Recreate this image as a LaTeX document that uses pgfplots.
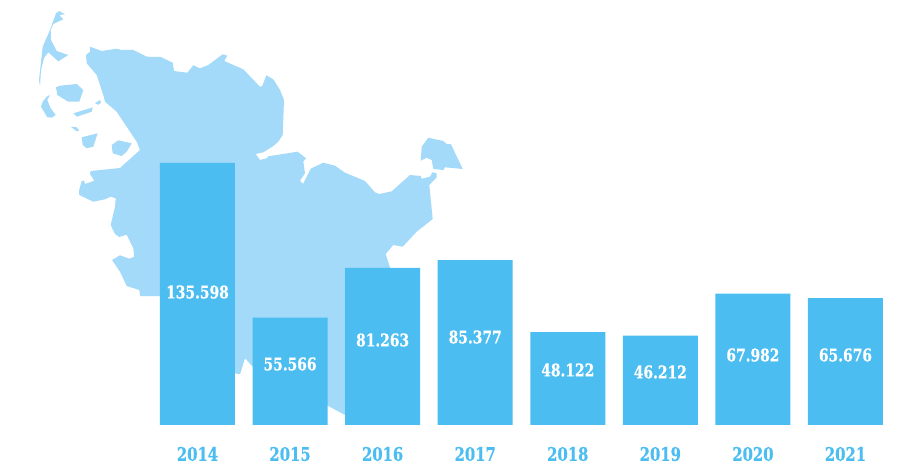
\documentclass[border=0pt]{standalone}
\usepackage{fontspec}
\setmainfont{DejaVu Serif Condensed}[FakeStretch=0.88,FakeBold=0.5]
\usepackage{pgfplots}
\usepackage{pgfplotstable}
\pgfplotsset{compat=1.18}
\definecolor{barblue}{RGB}{75,189,241}
\definecolor{mapblue}{RGB}{163,217,249}

% year, value, height of the label, label
\pgfplotstableread{
x val laby label
0 135598 68834 135.598
1 55566 31570 55.566
2 81263 43991 81.263
3 85377 45544 85.377
4 48122 28465 48.122
5 46212 27430 46.212
6 67982 36228 67.982
7 65676 36228 65.676
}\visitors

\begin{document}
\begin{tikzpicture}
\path[use as bounding box] (0,0) rectangle (900pt,468pt);

% map, in pixel coordinates of the picture
\begin{axis}[
    at={(0,0)}, anchor=south west,
    width=900pt, height=468pt, scale only axis,
    xmin=0, xmax=900, ymin=0, ymax=468, y dir=reverse,
    hide axis, clip=false,
]
% mainland
\addplot[fill=mapblue, draw=none] coordinates {
(90,46.7) (101.7,51) (116.7,48.7) (121.7,50) (133.3,50) (146.7,56.7) (160.7,57) (172.7,62.7)
(174,71) (187.3,72.7) (193.3,65.3) (200,68.3) (208.3,65) (222.7,54.3) (227.3,55.7) (224.3,61)
(243.3,69.3) (260,86.7) (262.3,86) (266.3,75.3) (273.3,79.3) (280,90) (284,100) (282.7,135)
(278.3,141.7) (273.3,146) (263.3,152.3) (255.7,154) (260,160) (266.7,158.3) (268.3,156.3)
(297.7,151.7) (306,158.3) (303.3,161.7) (305,173.3) (300,180.7) (303,184) (310.7,168.7)
(323.3,162.7) (335,165.7) (345,172.7) (365,181) (375,192.3) (379.3,194) (391.7,191.3)
(410,175) (420.7,176) (421.7,178.7) (430,176.7) (432.3,172.3) (436.7,173.3) (436.7,177.3)
(429.3,185) (432.7,219) (416.7,231.7) (402.7,246.7) (393.3,245) (385.7,254) (390,267.7)
(380,300) (345,415) (327.7,405.7) (300,380) (252.7,366.7) (245,358.3) (240,374.3) (234.7,373.3)
(200,340) (160,296) (140,296) (139.3,290) (126.7,286) (120,271.7) (112,260) (120,255.3)
(129.3,258.7) (134.3,256.7) (133.3,248.3) (126.7,234.7) (119.3,237) (115,234) (110.7,225)
(115,206.7) (115.7,198.3) (110.7,196.7) (105,199.3) (93.3,201.7) (79.3,195) (79,190.7)
(81.7,181) (84,180.7) (85,184) (94.3,180.7) (90,174) (90.7,171) (120,168) (133.3,156)
(140,150) (136.7,141.7) (126.7,126.7) (116.7,111.7) (105,101.7) (103.3,95) (96.7,75)
(86.7,63.3) (86,55) (90,51.7)
} --cycle;
% Sylt
\addplot[fill=mapblue, draw=none] coordinates {
(56,13.3) (59.3,11) (65,14.3) (59.3,15) (63.3,19.3) (53.3,24) (50.7,30) (51,40) (56.7,51)
(68.3,55) (58.3,61.3) (48.3,52.3) (44,58) (41,70) (40,86) (39,80) (42.7,46.7) (50,30)
} --cycle;
% Foehr
\addplot[fill=mapblue, draw=none] coordinates {
(56,87.3) (60,85.7) (76.7,84) (83.3,90) (79.3,101.7) (68.3,101.7) (57.3,95)
} --cycle;
% Amrum
\addplot[fill=mapblue, draw=none] coordinates {
(46.7,96.7) (50,95) (47.3,100) (50.7,108.3) (55.7,115) (51.7,117.7) (47.3,117.3) (41,106.7) (42.7,101.7)
} --cycle;
% Halligen
\addplot[fill=mapblue, draw=none] coordinates {
(73.3,113.3) (90,108.3) (92.7,107.3) (91.7,111.7) (76.7,116.7)
} --cycle;
\addplot[fill=mapblue, draw=none] coordinates {
(95,103.3) (100,100) (101,102.7) (98.3,104.7)
} --cycle;
\addplot[fill=mapblue, draw=none] coordinates {
(70.7,126.7) (76.7,127.3) (79.3,130.7) (76.7,131.3)
} --cycle;
% Pellworm
\addplot[fill=mapblue, draw=none] coordinates {
(81.7,137.3) (97.7,133.3) (93.3,146.7) (86.7,148.3) (82.7,145)
} --cycle;
% Nordstrand
\addplot[fill=mapblue, draw=none] coordinates {
(111.7,145) (118.3,140.3) (131.7,143.3) (126.7,151.7) (121.7,156) (112.7,153.3)
} --cycle;
% Fehmarn
\addplot[fill=mapblue, draw=none] coordinates {
(428.3,137.7) (443.3,141) (446.7,144) (451,144.3) (462.7,169) (445,167.3) (443.3,170)
(433.3,169) (431.7,160) (426.7,157.7) (420.7,160.7) (421.7,146.7)
} --cycle;
\end{axis}

% bars
\begin{axis}[
    at={(0,43pt)}, anchor=south west,
    width=900pt, height=425pt, scale only axis,
    xmin=-2.1335, xmax=7.589, ymin=0, ymax=219957,
    axis x line*=bottom, axis y line=none,
    x axis line style={draw=none},
    xtick={0,...,7},
    xticklabels={2014,2015,2016,2017,2018,2019,2020,2021},
    major tick length=0pt,
    xticklabel style={font=\fontsize{18.7}{18.7}\selectfont\bfseries, text=barblue, anchor=center, yshift=-29pt},
    clip=false,
]
\addplot[ybar, bar width=75pt, bar shift=0pt, fill=barblue, draw=none] table[x=x, y=val] {\visitors};
\addplot[draw=none, mark=none, nodes near coords, point meta=explicit symbolic,
    nodes near coords style={anchor=center, text=white, font=\fontsize{17.5}{17.5}\selectfont\bfseries}]
    table[x=x, y=laby, meta=label] {\visitors};
\end{axis}
\end{tikzpicture}
\end{document}
